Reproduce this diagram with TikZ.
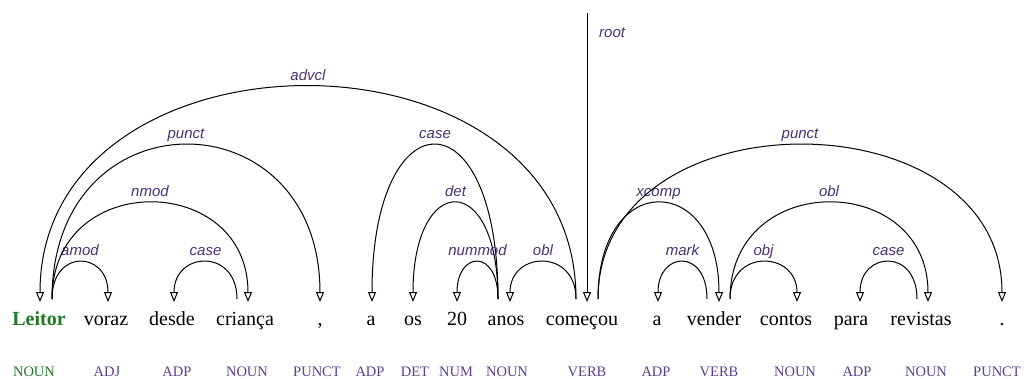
\documentclass[tikz,border=0pt]{standalone}
\usepackage{fontspec}
\setmainfont{Liberation Serif}
\setsansfont{Liberation Sans}
\usetikzlibrary{arrows.meta}
\definecolor{leafgreen}{HTML}{1F7A24}
\definecolor{relpurple}{HTML}{4A3274}
\definecolor{pospurple}{HTML}{5C408E}
\tikzset{
  dep/.style={draw, line width=1pt, -{Triangle[open, fill=white, length=10pt, width=8pt]}},
  rel/.style={font=\fontsize{15}{15}\selectfont\sffamily\itshape, text=relpurple, anchor=base, yshift=6.5pt, inner sep=0pt},
  word/.style={font=\fontsize{20}{20}\selectfont, anchor=base, inner sep=0pt},
  upos/.style={font=\fontsize{14.5}{14.5}\selectfont, text=pospurple, anchor=base, inner sep=0pt}
}
\begin{document}
\begin{tikzpicture}[x=1pt, y=-1pt]
  \fill[white] (0,0) rectangle (1027,378);
  \useasboundingbox (0,0) rectangle (1027,378);
  % words
  \node[word, text=leafgreen, font=\fontsize{20}{20}\selectfont\bfseries] (Leitor) at (39,325) {Leitor};
  \foreach \x/\w/\n in {106/voraz/voraz, 172/desde/desde, 245/criança/crianca, 320/{,}/comma,
      371/a/a1, 413/os/os, 457/20/n20, 506/anos/anos, 582/começou/comecou, 657/a/a2,
      714/vender/vender, 786/contos/contos, 851/para/para, 921/revistas/revistas, 1002/./dot}
    \node[word] (\n) at (\x,325) {\w};
  % part-of-speech tags
  \node[upos, text=leafgreen] (pos-Leitor) at (34,376) {NOUN};
  \foreach \x/\p/\n in {107/ADJ/voraz, 177/ADP/desde, 247/NOUN/crianca, 317/PUNCT/comma,
      370/ADP/a1, 415/DET/os, 456/NUM/n20, 507/NOUN/anos, 587/VERB/comecou, 656/ADP/a2,
      719/VERB/vender, 795/NOUN/contos, 857/ADP/para, 926/NOUN/revistas, 997/PUNCT/dot}
    \node[upos] (pos-\n) at (\x,376) {\p};
  % arc ends
  \coordinate (Leitor-in) at (40,302);    \coordinate (Leitor-out) at (52,299);
  \coordinate (voraz-in) at (108,302);    \coordinate (desde-in) at (174,302);
  \coordinate (crianca-out) at (237,299); \coordinate (crianca-in) at (248,302);
  \coordinate (comma-in) at (320,302);    \coordinate (a1-in) at (372,302);
  \coordinate (os-in) at (413,302);       \coordinate (n20-in) at (457,302);
  \coordinate (anos-out) at (498,299);    \coordinate (anos-in) at (510,302);
  \coordinate (comecou-l) at (576,299);   \coordinate (comecou-in) at (587,302);
  \coordinate (comecou-r) at (598,299);   \coordinate (a2-in) at (658,302);
  \coordinate (vender-l) at (707,299);    \coordinate (vender-in) at (719,302);
  \coordinate (vender-r) at (730,299);    \coordinate (contos-in) at (797,302);
  \coordinate (para-in) at (860,302);     \coordinate (revistas-out) at (917,299);
  \coordinate (revistas-in) at (928,302); \coordinate (dot-in) at (1002,302);
  \coordinate (root-top) at (587,13);
  % dependencies
  \foreach \a/\b/\h/\r in {Leitor-out/voraz-in/51/amod, crianca-out/desde-in/51/case,
      Leitor-out/crianca-in/130/nmod, Leitor-out/comma-in/207/punct,
      comecou-l/Leitor-in/285/advcl, anos-out/a1-in/207/case, anos-out/os-in/130/det,
      anos-out/n20-in/51/nummod, comecou-l/anos-in/51/obl, comecou-r/vender-in/130/xcomp,
      comecou-r/dot-in/207/punct, vender-l/a2-in/51/mark, vender-r/contos-in/51/obj,
      vender-r/revistas-in/130/obl, revistas-out/para-in/51/case}
    \draw[dep] (\a) .. controls +(0,-\h) and +(0,-\h) .. (\b) node[rel, midway] {\r};
  \draw[dep] (root-top) -- (comecou-in);
  \node[rel, yshift=0pt, anchor=base west] (root-lbl) at (599,44) {root};
\end{tikzpicture}
\end{document}
